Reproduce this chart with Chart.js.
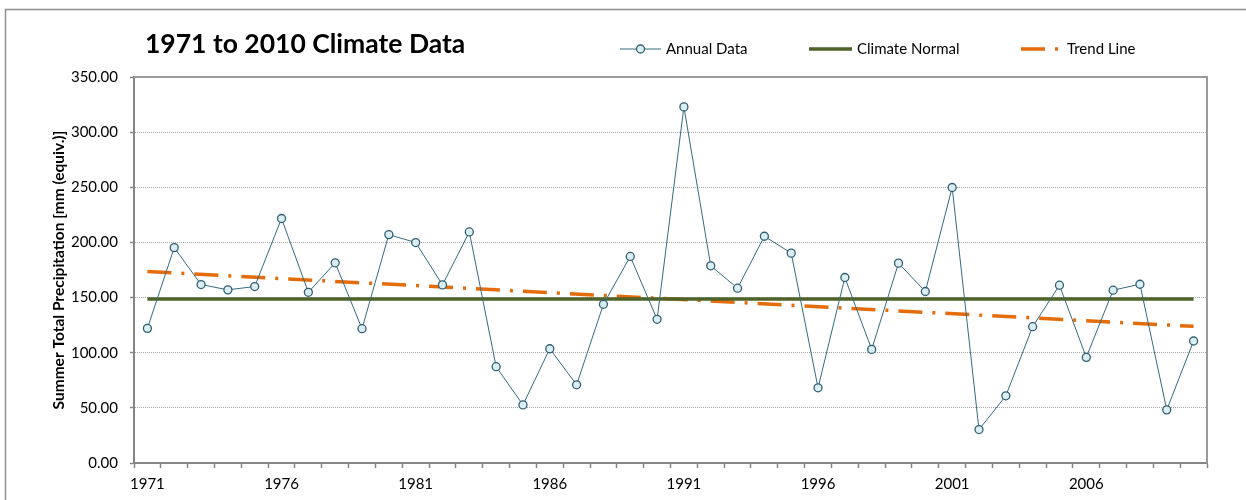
<!DOCTYPE html>
<html>
<head>
<meta charset="utf-8">
<title>1971 to 2010 Climate Data</title>
<script src="https://cdn.jsdelivr.net/npm/chart.js@4.4.1/dist/chart.umd.min.js"></script>
<style>
  html, body { margin: 0; padding: 0; background: #fff; overflow: hidden; }
  #wrap { width: 1246px; height: 500px; }
</style>
</head>
<body>
<div id="wrap"><canvas id="climate" width="1246" height="500"></canvas></div>
<script>
var years = ['1971','1972','1973','1974','1975','1976','1977','1978','1979','1980',
             '1981','1982','1983','1984','1985','1986','1987','1988','1989','1990',
             '1991','1992','1993','1994','1995','1996','1997','1998','1999','2000',
             '2001','2002','2003','2004','2005','2006','2007','2008','2009','2010']
var annualData = [122.1, 195.3, 161.8, 157.0, 160.0, 221.7, 154.8, 181.5, 121.8, 207.1,
                  199.9, 161.5, 209.5, 87.3, 52.7, 103.6, 70.9, 143.9, 187.3, 130.3,
                  322.9, 178.8, 158.5, 205.6, 190.3, 68.2, 168.2, 103.0, 181.2, 155.5,
                  249.8, 30.3, 60.9, 123.6, 161.2, 95.8, 156.7, 162.1, 48.2, 110.6]
var climateNormal = 148.8
var trendEnds = [173.6, 123.9]
var yMax = 350
var yStep = 50
var labelEvery = 5
var chartTitle = '1971 to 2010 Climate Data'
var yTitle = 'Summer Total Precipitation [mm (equiv.)]'

var normalLine = years.map(function () { return climateNormal })
var trendLine = years.map(function (y, i) {
    if (i === 0) return trendEnds[0]
    if (i === years.length - 1) return trendEnds[1]
    return null
})

var axisGrey = '#868686'
var font = 'Lato'

// outer frame, plot frame, title and legend row
var headerPlugin = {
    id: 'header',
    beforeDraw: function (chart) {
        var ctx = chart.ctx
        ctx.save()
        ctx.strokeStyle = '#8f8f8f'
        ctx.lineWidth = 1.5
        ctx.strokeRect(5.5, 9.5, 1400, 700)
        ctx.restore()
    },
    beforeDatasetsDraw: function (chart) {
        var a = chart.chartArea, ctx = chart.ctx
        ctx.save()
        ctx.strokeStyle = '#9a9a9a'
        ctx.lineWidth = 2
        ctx.beginPath()
        ctx.moveTo(a.left, a.top)
        ctx.lineTo(a.right, a.top)
        ctx.lineTo(a.right, a.bottom)
        ctx.stroke()
        ctx.restore()
    },
    afterDraw: function (chart) {
        var ctx = chart.ctx
        var ds = chart.data.datasets
        ctx.save()
        ctx.fillStyle = '#000'
        ctx.textBaseline = 'middle'
        ctx.font = 'bold 26.5px ' + font
        ctx.fillText(chartTitle, 145, 44)

        var ly = 49
        var lx = [620, 809, 1021]
        var lw = [41, 43, 41]
        ctx.font = '15px ' + font
        ds.forEach(function (d, i) {
            var x0 = lx[i], x1 = lx[i] + lw[i]
            ctx.save()
            ctx.strokeStyle = d.borderColor
            ctx.lineWidth = d.borderWidth
            ctx.setLineDash(d.borderDash || [])
            ctx.beginPath()
            ctx.moveTo(x0, ly)
            ctx.lineTo(x1, ly)
            ctx.stroke()
            if (d.pointRadius) {
                ctx.setLineDash([])
                ctx.fillStyle = d.pointBackgroundColor
                ctx.strokeStyle = d.pointBorderColor
                ctx.lineWidth = d.pointBorderWidth
                ctx.beginPath()
                ctx.arc((x0 + x1) / 2, ly, d.pointRadius, 0, Math.PI * 2)
                ctx.fill()
                ctx.stroke()
            }
            ctx.restore()
            ctx.fillText(d.label, x1 + 5, ly)
        })
        ctx.restore()
    }
}

var ctx = document.getElementById('climate').getContext('2d')
var climateChart = new Chart(ctx, {
    type: 'line',
    data: {
        labels: years,
        datasets: [{
            label: 'Annual Data',
            data: annualData,
            borderColor: '#336b7f',
            borderWidth: 1,
            pointRadius: 4,
            pointBackgroundColor: '#daeef3',
            pointBorderColor: '#2f5f70',
            pointBorderWidth: 1.3,
            tension: 0
        }, {
            label: 'Climate Normal',
            data: normalLine,
            borderColor: '#4f6228',
            borderWidth: 3.5,
            pointRadius: 0
        }, {
            label: 'Trend Line',
            data: trendLine,
            borderColor: '#e46c0a',
            borderWidth: 3.5,
            borderDash: [24, 10, 3, 10],
            borderCapStyle: 'butt',
            spanGaps: true,
            pointRadius: 0
        }]
    },
    options: {
        responsive: false,
        animation: false,
        events: [],
        layout: { padding: { left: 45, right: 39, top: 77, bottom: 0 } },
        plugins: {
            legend: { display: false },
            title: { display: false },
            tooltip: { enabled: false }
        },
        scales: {
            x: {
                offset: true,
                grid: {
                    offset: true,
                    drawOnChartArea: false,
                    drawTicks: true,
                    tickLength: 5,
                    tickColor: axisGrey,
                    tickWidth: 1.5
                },
                border: { color: axisGrey, width: 2 },
                ticks: {
                    autoSkip: false,
                    maxRotation: 0,
                    padding: 7,
                    color: '#000',
                    font: { family: font, size: 15 },
                    callback: function (value, index) {
                        return index % labelEvery === 0 ? this.getLabelForValue(value) : ''
                    }
                },
                afterFit: function (scale) { scale.height = 37 }
            },
            y: {
                min: 0,
                max: yMax,
                grid: {
                    color: '#a6a6a6',
                    lineWidth: 1,
                    drawTicks: true,
                    tickLength: 4,
                    tickColor: axisGrey,
                    tickWidth: 1.5,
                    tickBorderDash: []
                },
                border: { color: axisGrey, width: 2, dash: [1, 1] },
                ticks: {
                    stepSize: yStep,
                    padding: 12,
                    color: '#000',
                    font: { family: font, size: 15 },
                    callback: function (v) { return v.toFixed(2) }
                },
                title: {
                    display: true,
                    text: yTitle,
                    color: '#000',
                    padding: { top: 5, bottom: 0 },
                    font: { family: font, size: 15.5, weight: 'bold' }
                },
                afterFit: function (scale) { scale.width = 89 }
            }
        }
    },
    plugins: [headerPlugin]
})
</script>
</body>
</html>
